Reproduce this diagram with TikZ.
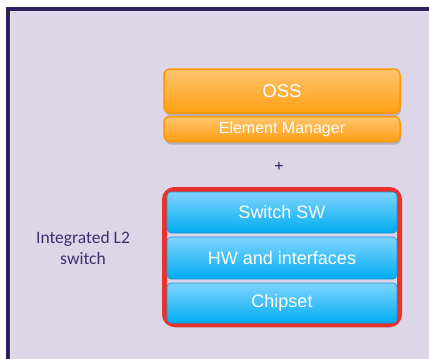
\documentclass[tikz,border=0pt]{standalone}
\usepackage{fontspec}
\setmainfont{Liberation Sans}
\newfontfamily\labelfont{Carlito}
\usetikzlibrary{shadows}
\definecolor{framecol}{RGB}{46,30,94}
\definecolor{lav}{RGB}{221,214,232}
\definecolor{lavlight}{RGB}{236,232,242}
\definecolor{orangetop}{RGB}{255,196,110}
\definecolor{orangebot}{RGB}{255,160,20}
\definecolor{orangeedge}{RGB}{255,152,0}
\definecolor{bluetop}{RGB}{128,212,255}
\definecolor{bluebot}{RGB}{0,172,240}
\definecolor{blueedge}{RGB}{20,150,215}
\definecolor{rededge}{RGB}{234,50,45}
\definecolor{labeltext}{RGB}{60,47,107}
\tikzset{
  softshadow/.style={drop shadow={shadow xshift=1pt, shadow yshift=-3pt, opacity=0.28, fill=black!70}},
  orangebox/.style={draw=orangeedge, line width=1.5pt, rounded corners=6pt,
    top color=orangetop, bottom color=orangebot, text=white, minimum width=236pt,
    softshadow, inner sep=0pt},
  bluebox/.style={draw=blueedge, line width=0.6pt, rounded corners=4pt,
    top color=bluetop, bottom color=bluebot, text=white, minimum width=230pt,
    inner sep=0pt, font=\fontsize{18}{21}\selectfont},
  redframe/.style={draw=rededge, line width=5pt, rounded corners=10pt,
    fill=lav, minimum width=235pt, minimum height=135pt, softshadow}
}
\begin{document}
\begin{tikzpicture}[x=1pt,y=-1pt]
\useasboundingbox (0,0) rectangle (429,359);
\fill[white] (0,0) rectangle (429,359);
% slide panel with its dark edge
\fill[lav] (8,9) rectangle (429,359);
\draw[framecol, line width=4pt] (8,359) -- (8,9) -- (429,9);
\draw[lavlight, line width=1pt] (10.5,359) -- (10.5,11.5) -- (429,11.5);

% management layers
\node[orangebox, minimum height=44pt, font=\fontsize{18.5}{21}\selectfont] (oss) at (282,91) {OSS};
\node[orangebox, minimum height=25pt, font=\fontsize{16}{18}\selectfont] (em) at (282,129) {Element Manager};
\node[text=framecol, font=\fontsize{16}{18}\selectfont] (plus) at (279,167) {+};

% integrated switch stack
\node[redframe] (stack) at (282,257) {};
\node[bluebox, minimum height=41pt] (sw) at (282,212.5) {Switch SW};
\node[bluebox, minimum height=42pt] (hw) at (282,258) {HW and interfaces};
\node[bluebox, minimum height=40pt] (chip) at (282,303) {Chipset};

\node[text=labeltext, align=center, font=\labelfont\fontsize{17.5}{21}\selectfont] (label) at (83,248) {Integrated L2\\switch};
\end{tikzpicture}
\end{document}
